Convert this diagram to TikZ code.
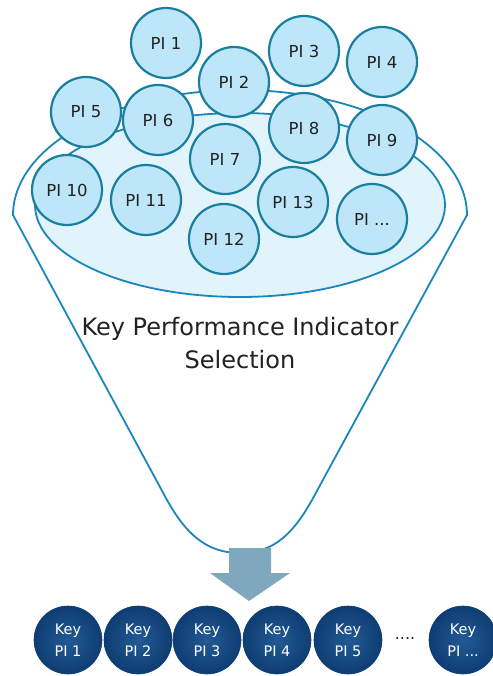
\documentclass[tikz,border=0pt]{standalone}
\usepackage{fontspec}
\setmainfont{DejaVu Sans}
\definecolor{funnelblue}{HTML}{1A86B9}
\definecolor{pistroke}{HTML}{1B7E9F}
\definecolor{pifill}{HTML}{BDE6F8}
\definecolor{innerfill}{HTML}{E1F4FB}
\definecolor{arrowfill}{HTML}{7FA7BD}
\definecolor{keyouter}{HTML}{0E3D72}
\definecolor{keyinner}{HTML}{235A95}
\definecolor{txtdark}{HTML}{222222}
\begin{document}
\begin{tikzpicture}[x=1pt,y=-1pt,
  funnel/.style={draw=funnelblue,line width=1.8pt},
  pi/.style={circle,draw=pistroke,line width=2.2pt,fill=pifill,minimum size=70pt,inner sep=0pt,
    text=txtdark,font=\fontsize{16.5}{18}\selectfont},
  keypi/.style={circle,minimum size=68pt,inner sep=0pt,inner color=keyinner,outer color=keyouter,
    draw=keyouter,line width=0.6pt,text=white,align=center,font=\fontsize{14.5}{22}\selectfont},
  bigtext/.style={align=center,text=txtdark,font=\fontsize{24}{33}\selectfont}]
\useasboundingbox (0,0) rectangle (492,676);
% funnel outline
\draw[funnel] plot[domain=180:360,samples=90] ({240+227*cos(\x)},{215+125*sin(\x)})
  -- (312,500) .. controls (294,532) and (275,553) .. (240,553)
  .. controls (205,553) and (185,532) .. (167,500) -- cycle;
% inner ellipse
\draw[funnel,fill=innerfill] (240,205) ellipse [x radius=205, y radius=92];
% PI circles
\node[pi] (p1) at (166,43) {PI 1};
\node[pi] (p2) at (234,82) {PI 2};
\node[pi] (p3) at (304,51) {PI 3};
\node[pi] (p4) at (382,62) {PI 4};
\node[pi] (p5) at (86,112) {PI 5};
\node[pi] (p6) at (158,120) {PI 6};
\node[pi] (p7) at (225,159) {PI 7};
\node[pi] (p8) at (304,128) {PI 8};
\node[pi] (p9) at (382,140) {PI 9};
\node[pi] (p10) at (67,190) {PI 10};
\node[pi] (p11) at (146,200) {PI 11};
\node[pi] (p12) at (224,239) {PI 12};
\node[pi] (p13) at (293,202) {PI 13};
\node[pi] (pn) at (372,219) {PI ...};
% label
\node[bigtext] (lbl) at (240,343) {Key Performance Indicator\\Selection};
% arrow
\fill[arrowfill] (229,548) -- (271,548) -- (271,573) -- (290,573) -- (249,601)
  -- (210,573) -- (229,573) -- cycle;
% key PIs
\node[keypi] (k1) at (68,640) {Key\\PI 1};
\node[keypi] (k2) at (138,640) {Key\\PI 2};
\node[keypi] (k3) at (207,640) {Key\\PI 3};
\node[keypi] (k4) at (277,640) {Key\\PI 4};
\node[keypi] (k5) at (348,640) {Key\\PI 5};
\node[text=txtdark,font=\fontsize{16}{18}\selectfont] (dots) at (405,638) {....};
\node[keypi] (kn) at (463,640) {Key\\PI ...};
\end{tikzpicture}
\end{document}
